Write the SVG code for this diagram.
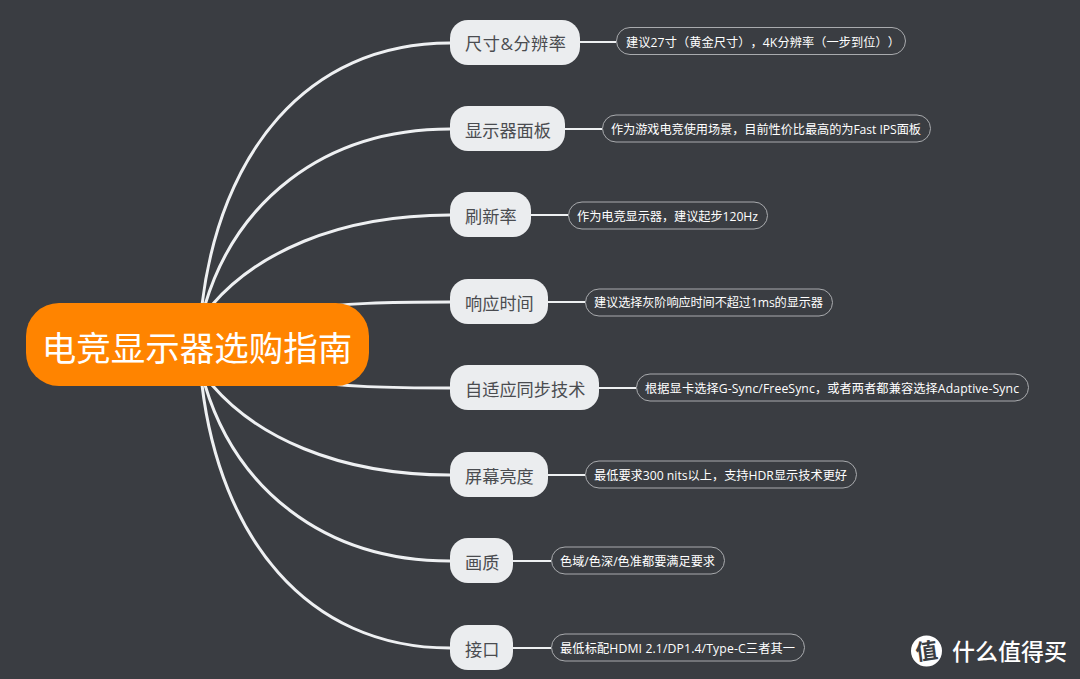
<svg xmlns="http://www.w3.org/2000/svg" width="1080" height="679" viewBox="0 0 1080 679">
<style>
text{font-family:"Open Sans","Noto Sans CJK SC","Noto Sans",sans-serif;dominant-baseline:central;text-spacing-trim:space-all}
.n rect{fill:#ebedef}
.n text{fill:#4a4c50;font-size:17.200px}
.d rect{fill:#3a3d42;stroke:#a9abae;stroke-width:1}
.d text{fill:#fff;font-size:12.200px}
#conn path{fill:none;stroke:#eef0f2;stroke-width:3}
#conn .s{stroke-width:2}
</style>
<rect width="1080" height="679" fill="#3a3d42"/>
<g id="conn">
<path d="M202 305C220 155 305 43 450 43"/>
<path d="M205 305C235 205 320 129 450 129"/>
<path d="M212 305C255 255 335 215 450 215"/>
<path d="M300 310C340 303 390 302 450 302"/>
<path d="M300 380C340 387 390 388 450 388"/>
<path d="M212 385C255 435 335 475 450 475"/>
<path d="M205 385C235 485 320 561 450 561"/>
<path d="M202 385C220 535 305 648 450 648"/>
<path class="s" d="M580 42H616"/>
<path class="s" d="M565 129H602"/>
<path class="s" d="M531 215H568"/>
<path class="s" d="M548 302H585"/>
<path class="s" d="M599 388H636"/>
<path class="s" d="M548 475H585"/>
<path class="s" d="M513 561H551"/>
<path class="s" d="M513 648H551"/>
</g>
<g id="root"><rect x="26" y="303" width="343" height="83" rx="33" fill="#ff8400"/><text x="197" y="347.500" font-size="34.500" fill="#fff" text-anchor="middle">电竞显示器选购指南</text></g>
<g id="n1" class="n"><rect x="450" y="20" width="130" height="45" rx="18"/><text x="465" y="43" textLength="101">尺寸&amp;分辨率</text></g>
<g id="n2" class="n"><rect x="450" y="106" width="115" height="45" rx="18"/><text x="465" y="130">显示器面板</text></g>
<g id="n3" class="n"><rect x="450" y="192" width="81" height="45" rx="18"/><text x="465" y="216">刷新率</text></g>
<g id="n4" class="n"><rect x="450" y="279" width="98" height="45" rx="18"/><text x="465" y="303">响应时间</text></g>
<g id="n5" class="n"><rect x="450" y="365" width="149" height="45" rx="18"/><text x="465" y="389">自适应同步技术</text></g>
<g id="n6" class="n"><rect x="450" y="452" width="98" height="45" rx="18"/><text x="465" y="476">屏幕亮度</text></g>
<g id="n7" class="n"><rect x="450" y="538" width="63" height="45" rx="18"/><text x="465" y="562">画质</text></g>
<g id="n8" class="n"><rect x="450" y="625" width="63" height="45" rx="18"/><text x="465" y="649">接口</text></g>
<g id="d1" class="d"><rect x="616.500" y="27.500" width="289" height="27" rx="13.500"/><text x="626" y="42" textLength="274">建议27寸（黄金尺寸），4K分辨率（一步到位））</text></g>
<g id="d2" class="d"><rect x="602.500" y="115" width="328" height="27" rx="13.500"/><text x="611" y="129" textLength="310">作为游戏电竞使用场景，目前性价比最高的为Fast IPS面板</text></g>
<g id="d3" class="d"><rect x="568.500" y="202" width="199" height="27" rx="13.500"/><text x="577" y="216" textLength="181">作为电竞显示器，建议起步120Hz</text></g>
<g id="d4" class="d"><rect x="585.500" y="289" width="247" height="27" rx="13.500"/><text x="594" y="302" textLength="229">建议选择灰阶响应时间不超过1ms的显示器</text></g>
<g id="d5" class="d"><rect x="636.500" y="374" width="392" height="27" rx="13.500"/><text x="645" y="388" textLength="374">根据显卡选择G-Sync/FreeSync，或者两者都兼容选择Adaptive-Sync</text></g>
<g id="d6" class="d"><rect x="585.500" y="461" width="271" height="27" rx="13.500"/><text x="594" y="475" textLength="253">最低要求300 nits以上，支持HDR显示技术更好</text></g>
<g id="d7" class="d"><rect x="551.500" y="547" width="173" height="27" rx="13.500"/><text x="560" y="561" textLength="155">色域/色深/色准都要满足要求</text></g>
<g id="d8" class="d"><rect x="551.500" y="634" width="253" height="27" rx="13.500"/><text x="560" y="648" textLength="235">最低标配HDMI 2.1/DP1.4/Type-C三者其一</text></g>
<g id="logo">
<circle cx="926.500" cy="651" r="15.500" fill="#fff"/>
<text x="926.500" y="650" font-size="22" font-weight="700" fill="#3a3d42" text-anchor="middle" transform="rotate(-8 926.500 651)">值</text>
<text x="952" y="651" font-size="23" font-weight="500" fill="#fff">什么值得买</text>
</g>
</svg>
